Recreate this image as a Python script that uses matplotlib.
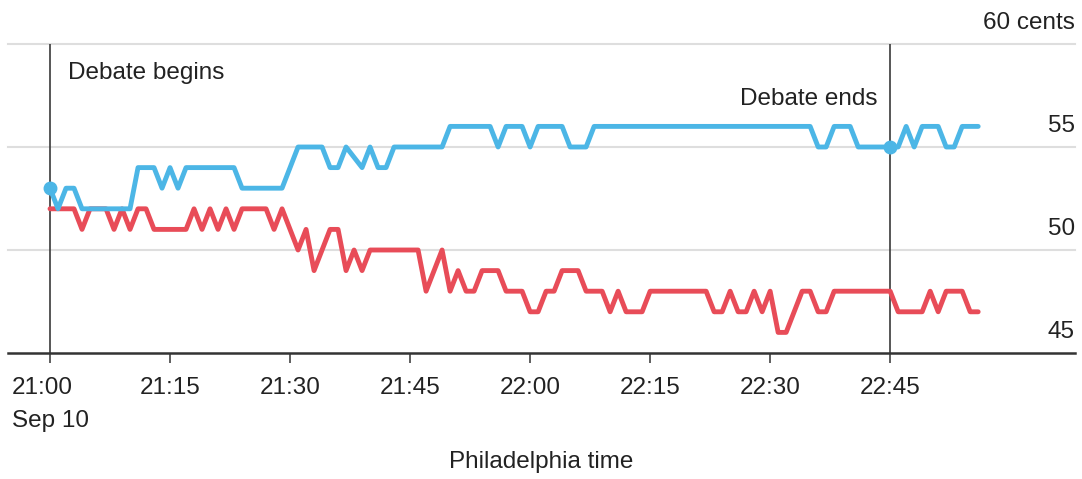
import matplotlib
matplotlib.use("Agg")
import matplotlib.pyplot as plt
import matplotlib.transforms as mtransforms
import pandas as pd

plt.rcParams["font.family"] = ["Liberation Sans", "DejaVu Sans"]

# Minute-by-minute contract prices (cents), 21:00 to 22:56, ten per row
start = "2024-09-10 21:00"
blue_prices = [
    53, 52, 53, 53, 52, 52, 52, 52, 52, 52,
    52, 54, 54, 54, 53, 54, 53, 54, 54, 54,
    54, 54, 54, 54, 53, 53, 53, 53, 53, 53,
    54, 55, 55, 55, 55, 54, 54, 55, 54.5, 54,
    55, 54, 54, 55, 55, 55, 55, 55, 55, 55,
    56, 56, 56, 56, 56, 56, 55, 56, 56, 56,
    55, 56, 56, 56, 56, 55, 55, 55, 56, 56,
    56, 56, 56, 56, 56, 56, 56, 56, 56, 56,
    56, 56, 56, 56, 56, 56, 56, 56, 56, 56,
    56, 56, 56, 56, 56, 56, 55, 55, 56, 56,
    56, 55, 55, 55, 55, 55, 55, 56, 55, 56,
    56, 56, 55, 55, 56, 56, 56,
]
red_prices = [
    52, 52, 52, 52, 51, 52, 52, 52, 51, 52,
    51, 52, 52, 51, 51, 51, 51, 51, 52, 51,
    52, 51, 52, 51, 52, 52, 52, 52, 51, 52,
    51, 50, 51, 49, 50, 51, 51, 49, 50, 49,
    50, 50, 50, 50, 50, 50, 50, 48, 49, 50,
    48, 49, 48, 48, 49, 49, 49, 48, 48, 48,
    47, 47, 48, 48, 49, 49, 49, 48, 48, 48,
    47, 48, 47, 47, 47, 48, 48, 48, 48, 48,
    48, 48, 48, 47, 47, 48, 47, 47, 48, 47,
    48, 46, 46, 47, 48, 48, 47, 47, 48, 48,
    48, 48, 48, 48, 48, 48, 47, 47, 47, 47,
    48, 47, 48, 48, 48, 47, 47,
]
times = pd.date_range(start, periods=len(red_prices), freq="min")

debate_start = pd.Timestamp("2024-09-10 21:00")
debate_end = pd.Timestamp("2024-09-10 22:45")

y_levels = [45, 50, 55, 60]
y_labels = ["45", "50", "55", "60 cents"]
x_ticks = pd.date_range("2024-09-10 21:00", "2024-09-10 22:45", freq="15min")
x_labels = ["21:00\nSep 10", "21:15", "21:30", "21:45", "22:00", "22:15",
            "22:30", "22:45"]

BLUE = "#4cb6e6"
RED = "#e84c58"
TEXT = "#222222"

fig = plt.figure(figsize=(10.82, 4.79), dpi=100)
W, H = 1082, 479
ax = fig.add_axes([8 / W, (H - 353) / H, (1075 - 8) / W, (353 - 44) / H])

ax.set_xlim(debate_start - pd.Timedelta(minutes=5.25),
            debate_start + pd.Timedelta(minutes=128.1))
ax.set_ylim(45, 60)

# horizontal grid
for lv in y_levels[1:]:
    ax.axhline(lv, color="#dedede", lw=1.5, zorder=1, clip_on=False)

for s in ["top", "left", "right"]:
    ax.spines[s].set_visible(False)
ax.spines["bottom"].set_color("#333333")
ax.spines["bottom"].set_linewidth(1.8)

# debate markers
for t in (debate_start, debate_end):
    ax.axvline(t, color="#3a3a3a", lw=1.2, zorder=2)

ax.plot(times, red_prices, color=RED, lw=3.5, zorder=3,
        solid_joinstyle="round", solid_capstyle="round")
ax.plot(times, blue_prices, color=BLUE, lw=3.5, zorder=4,
        solid_joinstyle="round", solid_capstyle="round")

for t in (debate_start, debate_end):
    idx = times.get_loc(t)
    ax.plot(t, blue_prices[idx], "o", color=BLUE, ms=9, zorder=5)

# y labels sit above their gridlines on the right
trans = mtransforms.blended_transform_factory(ax.transAxes, ax.transData)
off = mtransforms.ScaledTranslation(0, 15 / 72, fig.dpi_scale_trans)
for lv, lab in zip(y_levels, y_labels):
    ax.text(1.0, lv, lab, transform=trans + off, ha="right", va="center",
            fontsize=17.5, color=TEXT)
ax.set_yticks([])

ax.set_xticks(x_ticks)
ax.set_xticklabels(x_labels, fontsize=17.5, color=TEXT, linespacing=1.6,
                   multialignment="left")
ax.tick_params(axis="x", length=7.5, width=1.1, color="#333333", pad=10)
ax.set_xlabel("Philadelphia time", fontsize=17.5, color=TEXT, labelpad=14)

ax.text(debate_start + pd.Timedelta(minutes=2.2), 58.6, "Debate begins",
        fontsize=17.5, color=TEXT, ha="left", va="center")
ax.text(debate_end - pd.Timedelta(minutes=1.6), 57.35, "Debate ends",
        fontsize=17.5, color=TEXT, ha="right", va="center")

fig.savefig("out.png", dpi=100, facecolor="white")
